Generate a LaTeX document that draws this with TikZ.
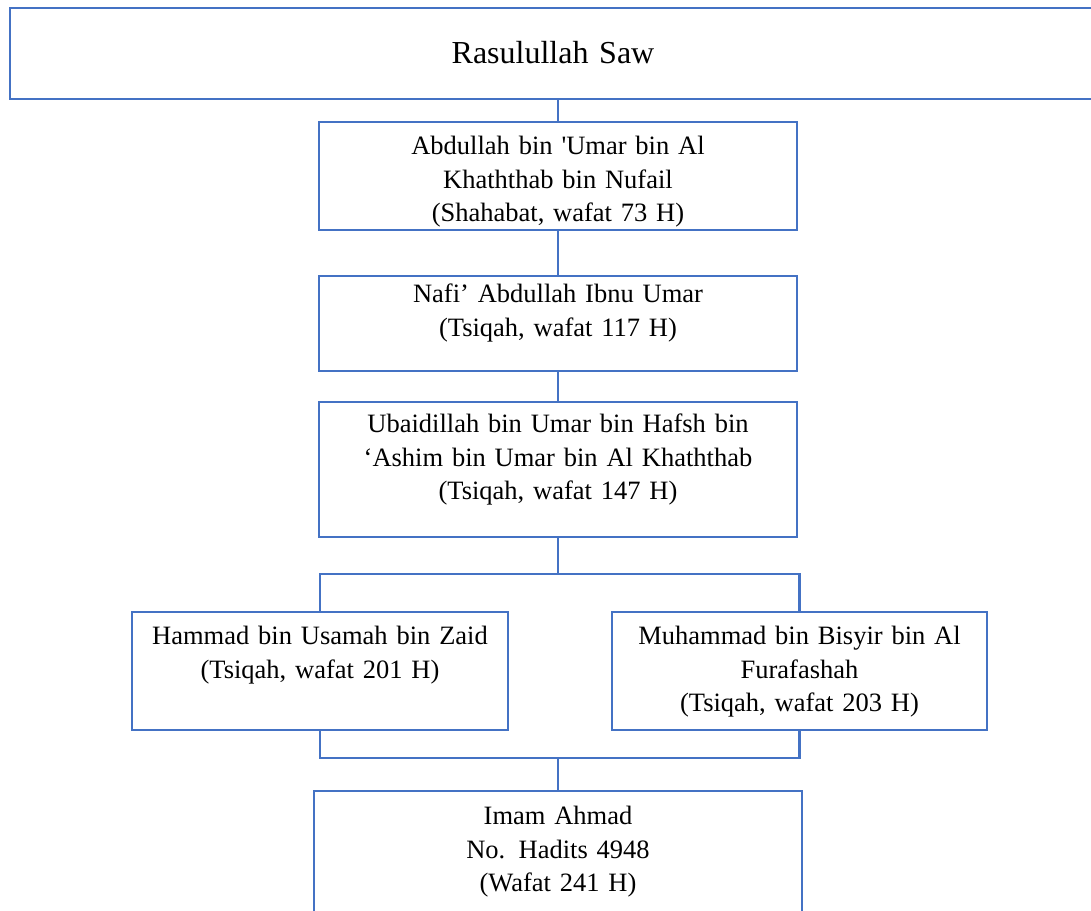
\documentclass[tikz,border=0pt]{standalone}
\usepackage{fontspec}
\setmainfont{Liberation Serif}
\usetikzlibrary{positioning}
\definecolor{garisbiru}{HTML}{4472C4}

\begin{document}
\begin{tikzpicture}[x=1pt,y=-1pt,
  % boxes, texts and lines of the chain
  kotak/.style={draw=garisbiru, line width=2.8pt, inner sep=0pt},
  isi/.style={text width=#1, align=center, inner sep=0pt, anchor=base,
    font=\fontsize{26.5}{33.5}\selectfont},
  isi/.default=460pt,
  garis/.style={draw=garisbiru, line width=2.8pt}]
\useasboundingbox (0,0) rectangle (1091,910);
% boxes
\node[kotak, minimum width=1096pt, minimum height=91pt] (rasul) at (558,53.5) {};
\node[kotak, minimum width=478pt, minimum height=108pt] (abdullah) at (558,176) {};
\node[kotak, minimum width=478pt, minimum height=95pt] (nafi) at (558,323.5) {};
\node[kotak, minimum width=478pt, minimum height=135pt] (ubaid) at (558,469.5) {};
\node[kotak, minimum width=376pt, minimum height=118pt] (hammad) at (320,671) {};
\node[kotak, minimum width=375pt, minimum height=118pt] (muhammad) at (799.5,671) {};
\node[kotak, minimum width=488pt, minimum height=160pt] (ahmad) at (558,871) {};
% texts
\node[isi=1000pt, font=\fontsize{32}{38}\selectfont] (trasul) at (553,63) {Rasulullah Saw};
\node[isi] (tabdullah) at ([yshift=-34pt]abdullah.north)
  {Abdullah bin \textquotesingle Umar bin Al\\ Khaththab bin Nufail\\ (Shahabat, wafat 73 H)};
\node[isi] (tnafi) at ([yshift=-28pt]nafi.north)
  {Nafi’ Abdullah Ibnu Umar\\ (Tsiqah, wafat 117 H)};
\node[isi] (tubaid) at ([yshift=-32pt]ubaid.north)
  {Ubaidillah bin Umar bin Hafsh bin\\ ‘Ashim bin Umar bin Al Khaththab\\ (Tsiqah, wafat 147 H)};
\node[isi=360pt] (thammad) at ([yshift=-34pt]hammad.north)
  {Hammad bin Usamah bin Zaid\\ (Tsiqah, wafat 201 H)};
\node[isi=360pt] (tmuhammad) at ([yshift=-34pt]muhammad.north)
  {Muhammad bin Bisyir bin Al\\ Furafashah\\ (Tsiqah, wafat 203 H)};
\node[isi] (tahmad) at ([yshift=-35pt]ahmad.north)
  {Imam Ahmad\\ No. Hadits 4948\\ (Wafat 241 H)};
% connectors
\coordinate (cabang) at (558,574);
\coordinate (gabung) at (558,758);
\draw[garis] (rasul) -- (abdullah);
\draw[garis] (abdullah) -- (nafi);
\draw[garis] (nafi) -- (ubaid);
\draw[garis] (ubaid) -- (cabang);
\draw[garis] (hammad.north) |- (cabang) -| (muhammad.north);
\draw[garis] (hammad.south) |- (gabung) -| (muhammad.south);
\draw[garis] (gabung) -- (ahmad.north);
\end{tikzpicture}
\end{document}
